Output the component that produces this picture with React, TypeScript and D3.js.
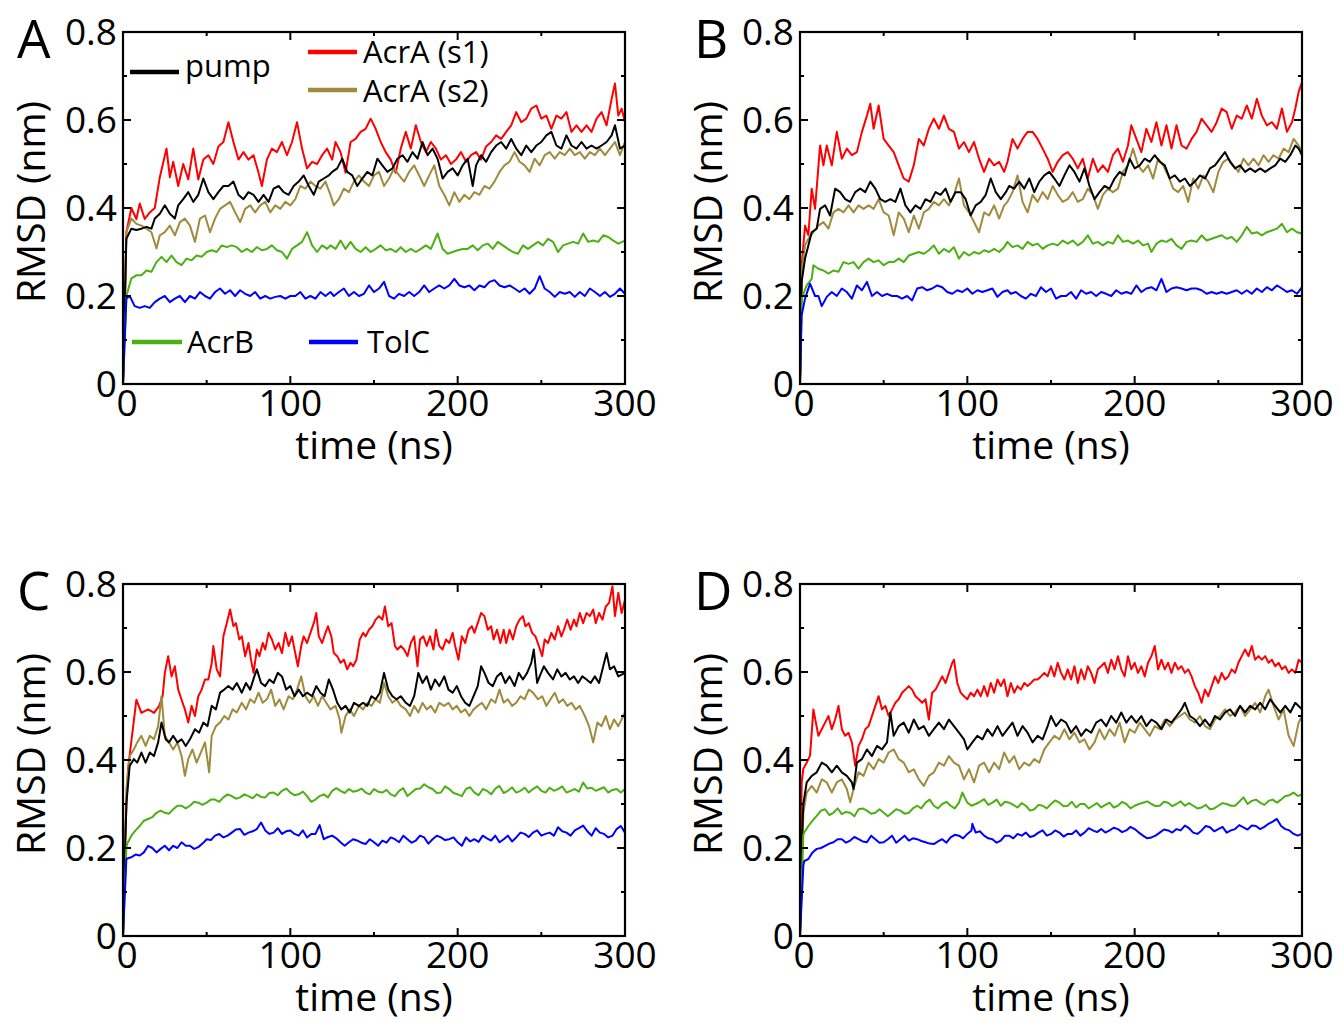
import React from 'react';
import * as d3 from 'd3';

type Pt = [number, number];

const X_TICKS = [0, 100, 200, 300];
const X_MINOR = [50, 150, 250];
const Y_TICKS = [0, 0.2, 0.4, 0.6, 0.8];
const Y_MINOR = [0.1, 0.3, 0.5, 0.7];
const Y_LABELS = ['0', '0.2', '0.4', '0.6', '0.8'];

const COLORS = {
  s1: '#ff0000',
  s2: '#a08a3c',
  pump: '#000000',
  acrb: '#4cb012',
  tolc: '#0000ff',
};

// ---- panel A ----
const A_s1: Pt[] = [[0,0],[2,0.345],[5,0.4],[8,0.375],[10,0.41],[13,0.375],[16,0.39],[19,0.4],[22,0.47],[26,0.535],[28,0.47],[30,0.505],[33,0.45],[36,0.5],[39,0.465],[42,0.535],[45,0.465],[48,0.51],[51,0.52],[54,0.5],[57,0.54],[60,0.55],[63,0.595],[66,0.55],[69,0.51],[72,0.527],[75,0.51],[78,0.52],[81,0.48],[83,0.45],[86,0.51],[89,0.535],[92,0.527],[95,0.55],[98,0.52],[101,0.55],[104,0.595],[107,0.535],[110,0.49],[113,0.505],[116,0.5],[119,0.52],[122,0.535],[125,0.51],[127,0.55],[130,0.527],[133,0.48],[136,0.55],[139,0.557],[142,0.573],[145,0.58],[148,0.603],[151,0.58],[154,0.55],[157,0.527],[160,0.51],[163,0.48],[166,0.535],[169,0.573],[172,0.535],[175,0.588],[178,0.55],[181,0.527],[184,0.55],[187,0.535],[190,0.51],[193,0.52],[196,0.5],[199,0.51],[202,0.527],[205,0.505],[208,0.52],[211,0.527],[214,0.51],[217,0.54],[220,0.55],[223,0.565],[226,0.557],[229,0.573],[232,0.588],[235,0.618],[238,0.595],[241,0.603],[244,0.626],[247,0.633],[250,0.603],[253,0.61],[256,0.58],[259,0.61],[262,0.603],[265,0.618],[268,0.573],[271,0.588],[274,0.573],[277,0.588],[280,0.573],[283,0.603],[286,0.618],[289,0.588],[292,0.648],[294,0.683],[296,0.61],[298,0.626],[300,0.595]];
const A_s2: Pt[] = [[0,0],[2,0.345],[5,0.376],[8,0.364],[11,0.36],[14,0.353],[17,0.345],[20,0.308],[22,0.338],[25,0.345],[28,0.36],[31,0.338],[34,0.368],[37,0.376],[40,0.36],[43,0.323],[46,0.376],[49,0.383],[52,0.345],[55,0.376],[58,0.398],[61,0.406],[64,0.414],[67,0.39],[70,0.368],[73,0.398],[76,0.406],[79,0.39],[82,0.406],[85,0.414],[88,0.39],[91,0.406],[94,0.398],[97,0.414],[100,0.406],[103,0.42],[106,0.45],[109,0.444],[112,0.46],[115,0.45],[118,0.444],[121,0.46],[124,0.43],[126,0.406],[129,0.42],[132,0.444],[135,0.436],[138,0.46],[141,0.474],[144,0.46],[147,0.45],[150,0.474],[153,0.482],[156,0.45],[159,0.467],[162,0.49],[165,0.474],[168,0.46],[171,0.482],[174,0.497],[177,0.474],[180,0.45],[183,0.474],[186,0.497],[189,0.45],[192,0.43],[195,0.406],[198,0.436],[201,0.414],[204,0.43],[207,0.42],[210,0.436],[213,0.43],[216,0.45],[219,0.444],[222,0.46],[225,0.482],[228,0.497],[231,0.505],[234,0.527],[237,0.505],[240,0.497],[243,0.482],[246,0.512],[249,0.497],[252,0.52],[255,0.527],[258,0.512],[261,0.527],[264,0.52],[267,0.535],[270,0.52],[273,0.527],[276,0.512],[279,0.527],[282,0.52],[285,0.535],[288,0.52],[291,0.535],[294,0.55],[297,0.52],[300,0.55]];
const A_pump: Pt[] = [[0,0],[2,0.33],[5,0.353],[8,0.35],[11,0.353],[14,0.357],[17,0.353],[19,0.376],[22,0.387],[25,0.406],[28,0.387],[31,0.376],[33,0.406],[36,0.42],[39,0.436],[42,0.414],[45,0.43],[48,0.467],[51,0.436],[54,0.42],[57,0.436],[60,0.45],[63,0.45],[66,0.46],[69,0.43],[72,0.42],[75,0.436],[78,0.43],[81,0.414],[84,0.43],[87,0.414],[90,0.444],[93,0.45],[96,0.436],[99,0.43],[102,0.45],[105,0.46],[108,0.474],[111,0.45],[114,0.43],[117,0.46],[120,0.467],[123,0.474],[125,0.482],[128,0.49],[131,0.512],[134,0.482],[137,0.474],[140,0.45],[143,0.467],[146,0.482],[149,0.474],[152,0.512],[155,0.497],[158,0.482],[161,0.49],[164,0.512],[167,0.52],[170,0.505],[173,0.527],[176,0.512],[179,0.55],[182,0.52],[185,0.535],[188,0.512],[191,0.467],[194,0.482],[197,0.49],[200,0.474],[203,0.497],[206,0.512],[209,0.45],[211,0.497],[214,0.52],[217,0.505],[220,0.527],[223,0.542],[226,0.55],[229,0.535],[232,0.557],[235,0.535],[238,0.52],[241,0.542],[244,0.527],[247,0.542],[250,0.55],[253,0.565],[256,0.573],[259,0.542],[262,0.535],[265,0.565],[268,0.542],[271,0.535],[274,0.55],[277,0.535],[280,0.542],[283,0.535],[286,0.542],[289,0.55],[292,0.565],[294,0.588],[297,0.535],[300,0.542]];
const A_acrb: Pt[] = [[0,0],[2,0.2],[5,0.24],[8,0.247],[11,0.247],[14,0.258],[17,0.255],[20,0.277],[23,0.289],[26,0.277],[29,0.292],[32,0.277],[35,0.27],[38,0.285],[41,0.281],[44,0.292],[47,0.289],[50,0.3],[53,0.304],[56,0.3],[59,0.315],[62,0.311],[65,0.315],[68,0.311],[71,0.3],[74,0.307],[77,0.3],[80,0.311],[83,0.304],[86,0.307],[89,0.315],[92,0.304],[95,0.3],[98,0.285],[101,0.307],[104,0.315],[107,0.323],[110,0.345],[113,0.315],[116,0.3],[119,0.315],[122,0.307],[124,0.315],[127,0.307],[130,0.326],[133,0.307],[136,0.323],[139,0.307],[142,0.3],[145,0.311],[148,0.3],[151,0.307],[154,0.315],[157,0.304],[160,0.307],[163,0.3],[166,0.311],[169,0.3],[172,0.307],[175,0.3],[178,0.307],[181,0.315],[184,0.307],[188,0.342],[191,0.307],[194,0.296],[197,0.3],[200,0.304],[203,0.307],[206,0.307],[209,0.315],[212,0.304],[215,0.315],[218,0.319],[221,0.307],[224,0.323],[227,0.315],[230,0.307],[233,0.3],[236,0.296],[239,0.315],[242,0.307],[245,0.315],[248,0.323],[251,0.315],[254,0.33],[257,0.323],[260,0.3],[263,0.315],[266,0.319],[269,0.323],[272,0.319],[275,0.342],[278,0.323],[281,0.326],[284,0.323],[287,0.338],[290,0.334],[293,0.326],[296,0.319],[300,0.326]];
const A_tolc: Pt[] = [[0,0],[2,0.194],[4,0.2],[7,0.177],[10,0.173],[13,0.177],[16,0.173],[19,0.186],[22,0.194],[25,0.2],[28,0.186],[31,0.194],[34,0.2],[37,0.186],[40,0.2],[43,0.194],[46,0.209],[49,0.2],[52,0.194],[55,0.209],[58,0.217],[61,0.205],[64,0.213],[67,0.2],[70,0.213],[73,0.205],[76,0.2],[79,0.209],[82,0.194],[85,0.2],[88,0.194],[91,0.198],[94,0.2],[97,0.194],[100,0.2],[103,0.2],[106,0.209],[109,0.194],[112,0.2],[115,0.194],[118,0.209],[121,0.2],[124,0.209],[126,0.2],[129,0.209],[132,0.217],[135,0.2],[138,0.209],[141,0.2],[144,0.205],[147,0.224],[150,0.209],[153,0.217],[156,0.232],[159,0.2],[162,0.194],[165,0.205],[168,0.2],[171,0.209],[174,0.2],[177,0.209],[180,0.224],[183,0.209],[186,0.217],[189,0.224],[192,0.217],[195,0.224],[198,0.239],[201,0.224],[204,0.22],[207,0.224],[210,0.213],[213,0.224],[216,0.22],[219,0.232],[222,0.236],[225,0.224],[228,0.22],[231,0.224],[234,0.217],[237,0.209],[240,0.217],[243,0.205],[246,0.217],[249,0.245],[252,0.217],[255,0.209],[258,0.198],[261,0.209],[264,0.205],[267,0.209],[270,0.198],[273,0.209],[276,0.2],[279,0.217],[282,0.209],[285,0.2],[288,0.209],[291,0.198],[294,0.205],[297,0.217],[300,0.205]];

// ---- panel B ----
const B_s1: Pt[] = [[0,0],[1,0.27],[3,0.36],[5,0.338],[7,0.444],[9,0.398],[12,0.542],[14,0.497],[16,0.542],[19,0.497],[22,0.573],[25,0.512],[28,0.535],[31,0.52],[34,0.527],[37,0.573],[40,0.61],[42,0.637],[44,0.58],[47,0.633],[50,0.557],[53,0.542],[56,0.527],[59,0.497],[62,0.467],[65,0.46],[68,0.497],[71,0.557],[74,0.542],[77,0.58],[80,0.603],[83,0.58],[86,0.61],[89,0.58],[92,0.573],[95,0.535],[98,0.55],[101,0.527],[104,0.55],[107,0.512],[110,0.482],[113,0.512],[116,0.497],[119,0.505],[122,0.482],[124,0.505],[127,0.557],[130,0.535],[133,0.557],[136,0.573],[139,0.573],[142,0.557],[145,0.535],[148,0.512],[151,0.482],[154,0.505],[157,0.52],[160,0.527],[163,0.512],[166,0.49],[169,0.512],[172,0.467],[175,0.512],[178,0.482],[181,0.497],[184,0.482],[187,0.52],[190,0.535],[193,0.505],[196,0.542],[198,0.588],[201,0.557],[204,0.527],[207,0.58],[210,0.55],[213,0.595],[216,0.542],[219,0.588],[222,0.535],[225,0.588],[228,0.542],[231,0.535],[234,0.557],[237,0.573],[240,0.603],[243,0.588],[246,0.573],[249,0.595],[252,0.626],[255,0.618],[258,0.58],[261,0.61],[264,0.603],[267,0.633],[270,0.603],[273,0.648],[276,0.61],[279,0.588],[282,0.595],[285,0.58],[288,0.626],[291,0.573],[294,0.595],[296,0.626],[298,0.664],[300,0.686]];
const B_s2: Pt[] = [[0,0],[1,0.255],[3,0.315],[5,0.33],[8,0.345],[11,0.36],[14,0.368],[17,0.353],[20,0.39],[23,0.398],[26,0.39],[29,0.406],[32,0.39],[35,0.406],[38,0.398],[41,0.406],[44,0.398],[47,0.42],[50,0.39],[53,0.383],[56,0.338],[59,0.39],[62,0.376],[65,0.345],[68,0.383],[71,0.353],[74,0.39],[77,0.398],[80,0.414],[83,0.406],[86,0.42],[89,0.406],[92,0.43],[95,0.467],[98,0.406],[101,0.39],[104,0.368],[107,0.345],[110,0.39],[113,0.383],[116,0.406],[119,0.376],[122,0.406],[124,0.414],[127,0.436],[130,0.474],[133,0.414],[136,0.39],[139,0.43],[142,0.414],[145,0.436],[148,0.42],[151,0.45],[154,0.43],[157,0.414],[160,0.42],[163,0.436],[166,0.414],[169,0.42],[172,0.444],[175,0.43],[178,0.398],[181,0.43],[184,0.444],[187,0.436],[190,0.444],[193,0.482],[196,0.497],[199,0.535],[202,0.497],[205,0.482],[208,0.497],[211,0.467],[214,0.512],[217,0.497],[220,0.474],[223,0.444],[226,0.436],[229,0.45],[232,0.414],[235,0.467],[238,0.444],[241,0.474],[244,0.46],[247,0.436],[250,0.482],[253,0.505],[256,0.512],[259,0.497],[262,0.482],[265,0.512],[268,0.497],[271,0.512],[274,0.497],[277,0.52],[280,0.505],[283,0.52],[286,0.512],[289,0.535],[292,0.527],[295,0.557],[298,0.542],[300,0.527]];
const B_pump: Pt[] = [[0,0],[1,0.232],[3,0.285],[5,0.315],[7,0.345],[10,0.353],[12,0.398],[15,0.406],[18,0.383],[21,0.444],[24,0.436],[27,0.42],[30,0.414],[33,0.436],[36,0.444],[39,0.436],[42,0.46],[45,0.444],[48,0.42],[51,0.414],[54,0.42],[57,0.414],[60,0.444],[63,0.406],[66,0.39],[69,0.406],[72,0.398],[75,0.42],[78,0.414],[81,0.436],[84,0.43],[87,0.444],[90,0.414],[93,0.436],[96,0.436],[99,0.42],[102,0.383],[105,0.406],[108,0.414],[111,0.43],[114,0.467],[117,0.436],[120,0.42],[123,0.436],[125,0.45],[128,0.444],[131,0.46],[134,0.444],[137,0.467],[140,0.436],[143,0.46],[146,0.474],[149,0.482],[152,0.467],[155,0.45],[158,0.474],[161,0.497],[164,0.482],[167,0.46],[170,0.49],[173,0.45],[176,0.42],[179,0.436],[182,0.45],[185,0.444],[188,0.467],[191,0.482],[194,0.474],[197,0.512],[200,0.49],[203,0.497],[206,0.512],[209,0.505],[212,0.52],[215,0.505],[218,0.497],[221,0.467],[224,0.474],[227,0.46],[230,0.467],[233,0.45],[236,0.46],[239,0.474],[242,0.467],[245,0.49],[248,0.497],[251,0.512],[254,0.527],[257,0.505],[260,0.49],[263,0.497],[266,0.482],[269,0.49],[272,0.482],[275,0.49],[278,0.482],[281,0.49],[284,0.497],[287,0.512],[290,0.505],[293,0.52],[296,0.542],[298,0.535],[300,0.52]];
const B_acrb: Pt[] = [[0,0],[1,0.194],[4,0.224],[7,0.239],[8,0.27],[11,0.262],[14,0.258],[17,0.251],[20,0.258],[23,0.255],[26,0.277],[29,0.273],[32,0.277],[35,0.262],[38,0.277],[41,0.285],[44,0.277],[47,0.281],[50,0.27],[53,0.277],[56,0.277],[59,0.285],[62,0.277],[65,0.292],[68,0.296],[71,0.3],[74,0.296],[77,0.304],[80,0.315],[83,0.296],[86,0.307],[89,0.3],[92,0.311],[95,0.285],[98,0.3],[101,0.292],[104,0.3],[107,0.296],[110,0.304],[113,0.3],[116,0.307],[119,0.3],[122,0.311],[124,0.323],[127,0.311],[130,0.315],[133,0.307],[136,0.323],[139,0.315],[142,0.319],[145,0.307],[148,0.315],[151,0.319],[154,0.315],[157,0.326],[160,0.319],[163,0.326],[166,0.315],[169,0.323],[172,0.338],[175,0.319],[178,0.323],[181,0.315],[184,0.323],[187,0.319],[190,0.338],[193,0.323],[196,0.326],[199,0.319],[202,0.326],[205,0.315],[208,0.319],[210,0.3],[213,0.319],[216,0.326],[219,0.323],[222,0.33],[225,0.315],[228,0.307],[231,0.323],[234,0.326],[237,0.323],[240,0.338],[243,0.326],[246,0.33],[249,0.334],[252,0.338],[255,0.33],[258,0.334],[261,0.323],[264,0.338],[267,0.357],[270,0.342],[273,0.345],[276,0.338],[279,0.345],[282,0.349],[285,0.353],[288,0.364],[291,0.345],[294,0.353],[297,0.345],[300,0.342]];
const B_tolc: Pt[] = [[0,0],[1,0.156],[3,0.194],[6,0.228],[9,0.2],[11,0.2],[13,0.177],[16,0.198],[19,0.209],[22,0.2],[25,0.217],[28,0.209],[31,0.194],[34,0.224],[37,0.213],[40,0.232],[43,0.2],[46,0.209],[49,0.2],[52,0.205],[55,0.2],[58,0.2],[61,0.194],[64,0.2],[67,0.19],[70,0.217],[73,0.22],[76,0.213],[79,0.217],[82,0.224],[85,0.22],[88,0.209],[91,0.205],[94,0.213],[97,0.209],[100,0.217],[103,0.205],[106,0.213],[109,0.209],[112,0.213],[115,0.217],[118,0.198],[121,0.209],[124,0.213],[126,0.205],[129,0.209],[132,0.2],[135,0.194],[138,0.205],[141,0.2],[144,0.22],[147,0.209],[150,0.217],[153,0.194],[156,0.2],[159,0.2],[162,0.209],[165,0.194],[168,0.213],[171,0.205],[174,0.209],[177,0.2],[180,0.209],[183,0.205],[186,0.2],[189,0.213],[192,0.205],[195,0.209],[198,0.205],[201,0.224],[204,0.209],[207,0.217],[210,0.22],[213,0.213],[216,0.239],[219,0.209],[222,0.217],[225,0.22],[228,0.217],[231,0.213],[234,0.217],[237,0.217],[240,0.213],[243,0.205],[246,0.209],[249,0.205],[252,0.209],[255,0.205],[258,0.209],[261,0.213],[264,0.205],[267,0.213],[270,0.205],[273,0.217],[276,0.209],[279,0.22],[282,0.213],[285,0.224],[288,0.217],[291,0.209],[294,0.213],[297,0.205],[300,0.22]];

// ---- panel C ----
const C_s1: Pt[] = [[0,0],[1,0.2],[3,0.38],[8,0.537],[11,0.507],[15,0.515],[18.6,0.507],[21.6,0.523],[23.7,0.545],[25,0.598],[27,0.636],[29,0.59],[31,0.613],[33,0.56],[35,0.537],[37,0.515],[39,0.485],[41,0.523],[43,0.5],[45,0.545],[47,0.56],[49,0.583],[51,0.583],[53,0.62],[54,0.659],[56,0.606],[58,0.59],[60,0.681],[62,0.711],[64,0.742],[66,0.704],[67.5,0.711],[69.5,0.674],[71,0.681],[73,0.636],[75,0.666],[76.5,0.628],[78,0.598],[80,0.651],[81.5,0.636],[83.5,0.666],[85,0.651],[87,0.689],[89,0.674],[91,0.651],[93,0.666],[95,0.643],[97,0.689],[99,0.659],[101,0.681],[102.5,0.651],[104.5,0.613],[106.5,0.659],[108,0.681],[110,0.666],[112,0.689],[114,0.711],[115.5,0.734],[117,0.681],[119,0.666],[121,0.689],[122.5,0.704],[124.5,0.681],[126,0.643],[128,0.636],[130,0.621],[132,0.628],[134,0.606],[136,0.621],[137.5,0.613],[139.5,0.628],[141.5,0.674],[143.5,0.689],[145,0.681],[147,0.696],[149,0.704],[151,0.719],[153,0.727],[155,0.719],[156.5,0.749],[158.5,0.704],[160.5,0.711],[162.5,0.659],[164,0.651],[166,0.659],[168,0.651],[170,0.636],[172,0.666],[174,0.681],[176,0.613],[177.5,0.674],[179.5,0.681],[181.5,0.659],[183.5,0.681],[185.5,0.651],[187,0.696],[189,0.659],[191,0.651],[193,0.674],[195,0.666],[197,0.689],[198.5,0.659],[200.5,0.628],[202.5,0.681],[204.5,0.666],[206.5,0.696],[208.5,0.704],[210,0.689],[212,0.711],[214,0.734],[216,0.727],[218,0.696],[220,0.704],[221.5,0.674],[223.5,0.696],[225.5,0.666],[227.5,0.696],[229,0.666],[231,0.696],[233,0.674],[235,0.704],[237,0.719],[239,0.727],[240.5,0.704],[242.5,0.711],[244.5,0.689],[246.5,0.681],[248.5,0.659],[250.5,0.636],[252,0.674],[254,0.666],[256,0.689],[258,0.674],[260,0.704],[262,0.681],[263.5,0.696],[265.5,0.719],[267.5,0.696],[269.5,0.719],[271,0.704],[273,0.734],[275,0.711],[277,0.734],[279,0.727],[281,0.742],[282.5,0.711],[284.5,0.734],[286.5,0.719],[288.5,0.749],[290.5,0.757],[292.5,0.795],[294,0.727],[296,0.78],[298,0.734],[300,0.764]];
const C_s2: Pt[] = [[0,0],[2,0.334],[4,0.409],[6.5,0.424],[8.5,0.44],[11,0.455],[13.5,0.432],[16,0.455],[18.5,0.447],[21,0.477],[23,0.545],[25,0.455],[27.5,0.44],[30,0.424],[32.5,0.44],[35,0.409],[37,0.364],[39,0.402],[41.5,0.424],[44,0.394],[46.5,0.417],[49,0.44],[51.5,0.372],[53,0.455],[55.5,0.477],[58,0.485],[60.5,0.5],[63,0.492],[65.5,0.515],[68,0.508],[71,0.53],[73.5,0.515],[76,0.538],[78.5,0.53],[81,0.553],[83.5,0.53],[86,0.538],[88.5,0.56],[91,0.523],[93.5,0.538],[96,0.515],[99,0.545],[101.5,0.538],[104,0.56],[106.5,0.59],[109,0.545],[111.5,0.53],[114,0.545],[116.5,0.523],[119,0.545],[121.5,0.53],[124,0.515],[127,0.523],[129.5,0.492],[130.5,0.462],[133,0.5],[135.5,0.515],[138,0.5],[141,0.523],[143.5,0.515],[146,0.53],[148.5,0.523],[151,0.538],[153.5,0.53],[156,0.575],[158.5,0.545],[161,0.53],[163.5,0.538],[166,0.523],[169,0.515],[171.5,0.5],[174,0.523],[176.5,0.508],[179,0.53],[181.5,0.515],[184,0.523],[186.5,0.508],[189,0.53],[192,0.523],[194.5,0.53],[197,0.515],[199.5,0.523],[202,0.508],[204.5,0.515],[207,0.5],[209.5,0.515],[212,0.523],[214.5,0.53],[217,0.515],[220,0.538],[222.5,0.53],[225,0.56],[227.5,0.53],[230,0.538],[232.5,0.523],[235,0.53],[237.5,0.545],[240,0.538],[242.5,0.56],[245,0.553],[248,0.538],[250.5,0.545],[253,0.523],[255.5,0.538],[258,0.553],[260.5,0.53],[263,0.538],[265.5,0.523],[268,0.53],[270.5,0.515],[273,0.523],[276,0.5],[278.5,0.477],[281,0.44],[283.5,0.485],[286,0.477],[288.5,0.5],[291,0.47],[293.5,0.492],[296,0.477],[300,0.508]];
const C_pump: Pt[] = [[0,0],[2,0.3],[4,0.387],[6.5,0.402],[8.5,0.394],[11,0.417],[13.5,0.394],[16,0.417],[18.5,0.409],[21,0.44],[23,0.485],[25.5,0.447],[27.5,0.44],[30,0.455],[32.5,0.44],[35,0.447],[37.5,0.432],[40,0.447],[43,0.47],[45.5,0.462],[48,0.485],[50.5,0.477],[53,0.523],[55.5,0.515],[58,0.553],[60.5,0.56],[63,0.568],[65.5,0.56],[68,0.575],[71,0.553],[73.5,0.575],[76,0.56],[78.5,0.59],[80,0.606],[82.5,0.575],[85,0.568],[87.5,0.583],[90,0.575],[92.5,0.598],[95,0.59],[97.5,0.56],[100,0.568],[102.5,0.545],[105,0.56],[107.5,0.545],[110,0.553],[113,0.545],[115.5,0.568],[118,0.553],[120.5,0.545],[123,0.583],[125.5,0.56],[128,0.53],[130.5,0.515],[133,0.523],[135.5,0.508],[138,0.53],[141,0.523],[143.5,0.53],[146,0.523],[148.5,0.545],[151,0.538],[153.5,0.553],[156,0.598],[158.5,0.56],[161,0.545],[163.5,0.538],[166,0.545],[169,0.53],[171.5,0.523],[174,0.545],[176.5,0.598],[179,0.575],[181.5,0.59],[184,0.56],[186.5,0.583],[189,0.568],[192,0.59],[194.5,0.56],[197,0.553],[199.5,0.568],[202,0.545],[204.5,0.53],[207,0.523],[209.5,0.545],[212,0.568],[214,0.613],[216,0.598],[218.5,0.575],[221,0.568],[223.5,0.59],[226,0.598],[228.5,0.575],[231,0.59],[234,0.568],[236.5,0.598],[239,0.583],[241.5,0.598],[244,0.621],[245.5,0.651],[247.5,0.575],[249,0.59],[251.5,0.613],[254,0.598],[257,0.583],[259.5,0.606],[262,0.59],[264.5,0.598],[267,0.583],[269.5,0.59],[272,0.575],[274.5,0.59],[277,0.583],[279.5,0.575],[282,0.59],[284.5,0.575],[287,0.613],[289,0.643],[291,0.606],[293.5,0.613],[296,0.59],[300,0.598]];
const C_acrb: Pt[] = [[0,0],[2,0.2],[2.5,0.21],[5,0.228],[7.5,0.24],[10,0.25],[12.5,0.262],[15,0.266],[17.5,0.27],[20,0.28],[22.5,0.285],[25,0.28],[27.5,0.278],[30,0.288],[32.5,0.296],[35,0.296],[37.5,0.29],[40,0.296],[42.5,0.305],[45,0.303],[47.5,0.298],[50,0.303],[52.5,0.31],[55,0.31],[57.5,0.305],[60,0.315],[62.5,0.322],[65,0.318],[67.5,0.312],[70,0.315],[72.5,0.322],[75,0.318],[77.5,0.313],[80,0.322],[82.5,0.316],[85,0.315],[87.5,0.325],[90,0.326],[92.5,0.32],[95,0.33],[97.5,0.335],[100,0.326],[102.5,0.32],[105,0.322],[107.5,0.328],[110,0.318],[112.5,0.305],[115,0.31],[117.5,0.318],[120,0.322],[122.5,0.315],[125,0.33],[127.5,0.336],[130,0.33],[132.5,0.325],[135,0.334],[137.5,0.328],[140,0.33],[142.5,0.335],[145,0.326],[147.5,0.322],[150,0.334],[152.5,0.328],[155,0.326],[157.5,0.332],[160,0.322],[162.5,0.318],[165,0.33],[167.5,0.336],[170,0.318],[172.5,0.326],[175,0.334],[177.5,0.335],[180,0.345],[182.5,0.338],[185,0.334],[187.5,0.325],[190,0.326],[192.5,0.34],[195,0.334],[197.5,0.325],[200,0.322],[202.5,0.318],[205,0.334],[207.5,0.338],[210,0.326],[212.5,0.32],[215,0.334],[217.5,0.33],[220,0.322],[222.5,0.335],[225,0.341],[227.5,0.325],[230,0.33],[232.5,0.338],[235,0.326],[237.5,0.33],[240,0.337],[242.5,0.326],[245,0.334],[247.5,0.34],[250,0.33],[252.5,0.326],[255,0.337],[257.5,0.33],[260,0.334],[262.5,0.34],[265,0.326],[267.5,0.33],[270,0.334],[272.5,0.328],[275,0.349],[277.5,0.335],[280,0.337],[282.5,0.33],[285,0.334],[287.5,0.338],[290,0.326],[292.5,0.332],[295,0.334],[297.5,0.326],[300,0.334]];
const C_tolc: Pt[] = [[0,0],[2,0.175],[2.5,0.176],[5,0.179],[7.5,0.185],[10,0.183],[12.5,0.19],[15,0.205],[17.5,0.2],[20,0.19],[22.5,0.198],[25,0.205],[27.5,0.195],[30,0.205],[32.5,0.2],[35,0.213],[37.5,0.205],[40,0.205],[42.5,0.198],[45,0.202],[47.5,0.21],[50,0.22],[52.5,0.218],[55,0.228],[57.5,0.232],[60,0.224],[62.5,0.228],[65,0.235],[67.5,0.242],[70,0.243],[72.5,0.23],[75,0.235],[77.5,0.238],[80,0.243],[82.5,0.258],[85,0.24],[87.5,0.232],[90,0.235],[92.5,0.245],[95,0.232],[97.5,0.238],[100,0.24],[102.5,0.232],[105,0.228],[107.5,0.24],[110,0.224],[112.5,0.232],[115,0.232],[117.5,0.252],[120,0.22],[122.5,0.225],[125,0.228],[127.5,0.222],[130,0.213],[132.5,0.205],[135,0.213],[137.5,0.22],[140,0.217],[142.5,0.212],[145,0.209],[147.5,0.22],[150,0.213],[152.5,0.205],[155,0.217],[157.5,0.212],[160,0.224],[162.5,0.22],[165,0.213],[167.5,0.228],[170,0.22],[172.5,0.212],[175,0.217],[177.5,0.228],[180,0.224],[182.5,0.21],[185,0.22],[187.5,0.228],[190,0.224],[192.5,0.218],[195,0.22],[197.5,0.224],[200,0.213],[202.5,0.205],[205,0.224],[207.5,0.215],[210,0.22],[212.5,0.214],[215,0.228],[217.5,0.222],[220,0.217],[222.5,0.228],[225,0.213],[227.5,0.22],[230,0.228],[232.5,0.215],[235,0.224],[237.5,0.235],[240,0.232],[242.5,0.225],[245,0.235],[247.5,0.24],[250,0.228],[252.5,0.232],[255,0.235],[257.5,0.228],[260,0.247],[262.5,0.238],[265,0.235],[267.5,0.228],[270,0.24],[272.5,0.245],[275,0.251],[277.5,0.238],[280,0.228],[282.5,0.245],[285,0.235],[287.5,0.232],[290,0.224],[292.5,0.228],[295,0.243],[297.5,0.25],[300,0.235]];

// ---- panel D ----
const D_s1: Pt[] = [[0,0],[1,0.349],[2,0.38],[4,0.394],[6,0.41],[8,0.515],[9.5,0.485],[11,0.455],[13,0.47],[15,0.485],[17,0.5],[19,0.47],[21,0.492],[23,0.523],[25,0.47],[27,0.455],[29,0.462],[31,0.44],[33,0.387],[35,0.432],[37,0.447],[39,0.47],[41,0.477],[43,0.5],[45,0.523],[47,0.545],[49,0.515],[51,0.523],[53,0.5],[55,0.515],[57,0.53],[59,0.538],[61,0.553],[63,0.56],[65,0.568],[67,0.56],[69,0.545],[71,0.538],[73,0.53],[75,0.538],[77,0.492],[79,0.553],[81,0.56],[83,0.575],[85,0.59],[87,0.575],[89,0.598],[91,0.621],[92,0.628],[94,0.575],[96,0.553],[98,0.545],[100,0.538],[102,0.553],[104,0.545],[106,0.56],[108,0.545],[110,0.568],[112,0.545],[114,0.575],[116,0.553],[118,0.583],[120,0.568],[122,0.583],[124,0.545],[126,0.575],[128,0.553],[130,0.568],[132,0.56],[134,0.575],[136,0.568],[138,0.575],[140,0.583],[142,0.583],[144,0.59],[146,0.598],[148,0.59],[150,0.613],[152,0.59],[154,0.621],[156,0.598],[158,0.583],[160,0.606],[162,0.583],[164,0.613],[166,0.575],[168,0.606],[170,0.583],[172,0.613],[174,0.598],[176,0.575],[178,0.606],[180,0.613],[182,0.621],[184,0.598],[186,0.628],[188,0.606],[190,0.636],[192,0.606],[194,0.59],[196,0.636],[198,0.606],[200,0.621],[202,0.598],[204,0.613],[206,0.59],[208,0.621],[210,0.636],[212,0.659],[214,0.606],[216,0.628],[218,0.606],[220,0.621],[222,0.598],[224,0.621],[226,0.606],[228,0.613],[230,0.598],[232,0.606],[234,0.59],[236,0.568],[238,0.553],[240,0.53],[242,0.56],[244,0.545],[246,0.568],[248,0.59],[250,0.575],[252,0.598],[254,0.583],[256,0.59],[258,0.606],[260,0.598],[262,0.621],[264,0.636],[266,0.651],[268,0.636],[270,0.659],[272,0.628],[274,0.636],[276,0.628],[278,0.636],[280,0.621],[282,0.628],[284,0.613],[286,0.621],[288,0.606],[290,0.613],[292,0.598],[294,0.606],[296,0.598],[298,0.628],[300,0.621]];
const D_s2: Pt[] = [[0,0],[2,0.28],[4,0.326],[7,0.341],[10,0.326],[13,0.356],[16,0.349],[19,0.326],[22,0.349],[25,0.356],[28,0.334],[30,0.304],[32,0.334],[35,0.372],[38,0.364],[41,0.394],[44,0.379],[47,0.402],[50,0.394],[53,0.417],[56,0.424],[59,0.402],[62,0.394],[65,0.372],[68,0.379],[71,0.356],[74,0.341],[77,0.364],[80,0.372],[83,0.394],[86,0.387],[89,0.409],[92,0.394],[95,0.387],[98,0.356],[101,0.379],[104,0.349],[107,0.387],[110,0.394],[113,0.372],[116,0.394],[119,0.379],[122,0.417],[125,0.394],[128,0.409],[131,0.379],[134,0.394],[137,0.387],[140,0.402],[143,0.394],[146,0.424],[149,0.44],[152,0.455],[155,0.447],[158,0.47],[161,0.447],[164,0.462],[167,0.44],[170,0.447],[173,0.424],[176,0.44],[179,0.47],[182,0.447],[185,0.47],[188,0.455],[191,0.485],[194,0.44],[197,0.47],[200,0.462],[203,0.485],[206,0.47],[209,0.455],[212,0.477],[215,0.47],[218,0.492],[221,0.477],[224,0.492],[227,0.5],[230,0.508],[233,0.492],[236,0.485],[239,0.5],[242,0.477],[245,0.47],[248,0.492],[251,0.5],[254,0.515],[257,0.5],[260,0.508],[263,0.523],[266,0.5],[269,0.515],[272,0.53],[275,0.508],[278,0.545],[280,0.56],[283,0.523],[286,0.492],[289,0.515],[292,0.455],[295,0.432],[298,0.485],[300,0.5]];
const D_pump: Pt[] = [[0,0],[1,0.2],[2,0.3],[4,0.349],[7,0.364],[10,0.372],[13,0.394],[16,0.387],[19,0.372],[22,0.387],[25,0.372],[28,0.364],[31,0.349],[32,0.334],[34,0.394],[37,0.402],[40,0.424],[43,0.409],[46,0.432],[49,0.424],[52,0.44],[54,0.508],[56,0.455],[59,0.477],[62,0.485],[65,0.462],[68,0.492],[71,0.47],[74,0.477],[77,0.455],[80,0.47],[83,0.485],[86,0.47],[89,0.492],[92,0.477],[95,0.462],[98,0.447],[100,0.424],[103,0.44],[106,0.455],[109,0.447],[112,0.47],[115,0.455],[118,0.477],[121,0.455],[124,0.47],[127,0.485],[130,0.455],[133,0.477],[136,0.462],[139,0.44],[142,0.455],[145,0.447],[148,0.477],[150,0.5],[153,0.477],[156,0.492],[159,0.485],[162,0.462],[165,0.477],[168,0.455],[171,0.47],[174,0.462],[177,0.485],[180,0.492],[183,0.477],[186,0.5],[189,0.485],[192,0.508],[195,0.485],[198,0.5],[201,0.485],[204,0.5],[207,0.477],[210,0.492],[213,0.485],[216,0.47],[219,0.492],[222,0.485],[225,0.5],[228,0.515],[230,0.53],[233,0.5],[236,0.492],[239,0.477],[242,0.492],[245,0.477],[248,0.5],[251,0.492],[254,0.508],[257,0.515],[260,0.5],[263,0.523],[266,0.508],[269,0.523],[272,0.515],[275,0.53],[278,0.515],[281,0.538],[284,0.523],[287,0.508],[290,0.523],[293,0.508],[296,0.53],[300,0.515]];
const D_acrb: Pt[] = [[0,0],[2,0.23],[2.5,0.235],[5,0.25],[7.5,0.262],[10,0.273],[12.5,0.285],[15,0.288],[17.5,0.275],[20,0.28],[22.5,0.29],[25,0.277],[27.5,0.282],[30,0.28],[32.5,0.272],[35,0.288],[37.5,0.29],[40,0.285],[42.5,0.278],[45,0.28],[47.5,0.288],[50,0.28],[52.5,0.272],[55,0.28],[57.5,0.288],[60,0.285],[62.5,0.278],[65,0.28],[67.5,0.29],[70,0.296],[72.5,0.29],[75,0.303],[77.5,0.31],[80,0.296],[82.5,0.29],[85,0.3],[87.5,0.305],[90,0.296],[92.5,0.29],[95,0.303],[97,0.326],[100,0.303],[102.5,0.296],[105,0.3],[107.5,0.305],[110,0.311],[112.5,0.298],[115,0.303],[117.5,0.31],[120,0.296],[122.5,0.305],[125,0.303],[127.5,0.298],[130,0.292],[132.5,0.302],[135,0.296],[137.5,0.285],[140,0.288],[142.5,0.298],[145,0.296],[147.5,0.29],[150,0.3],[152.5,0.308],[155,0.303],[157.5,0.295],[160,0.296],[162.5,0.305],[165,0.292],[167.5,0.3],[170,0.3],[172.5,0.29],[175,0.296],[177.5,0.302],[180,0.292],[182.5,0.298],[185,0.303],[187.5,0.292],[190,0.296],[192.5,0.305],[195,0.3],[197.5,0.29],[200,0.296],[202.5,0.3],[205,0.303],[207.5,0.306],[210,0.3],[212.5,0.295],[215,0.296],[217.5,0.305],[220,0.303],[222.5,0.295],[225,0.3],[227.5,0.306],[230,0.296],[232.5,0.302],[235,0.296],[237.5,0.29],[240,0.292],[242.5,0.298],[245,0.288],[247.5,0.29],[250,0.296],[252.5,0.302],[255,0.3],[257.5,0.296],[260,0.296],[262.5,0.305],[265,0.315],[267.5,0.3],[270,0.307],[272.5,0.31],[275,0.303],[277.5,0.298],[280,0.307],[282.5,0.31],[285,0.303],[287.5,0.31],[290,0.318],[292.5,0.32],[295,0.326],[297.5,0.318],[300,0.322]];
const D_tolc: Pt[] = [[0,0],[2,0.16],[2.5,0.17],[5,0.175],[7.5,0.19],[10,0.198],[12.5,0.2],[15,0.205],[17.5,0.21],[20,0.213],[22.5,0.22],[25,0.22],[27.5,0.212],[30,0.217],[32.5,0.225],[35,0.22],[37.5,0.215],[40,0.213],[42.5,0.228],[45,0.22],[47.5,0.212],[50,0.213],[52.5,0.22],[55,0.228],[57.5,0.212],[60,0.22],[62.5,0.228],[65,0.217],[67.5,0.222],[70,0.22],[72.5,0.216],[75,0.213],[77.5,0.21],[80,0.209],[82.5,0.215],[85,0.22],[87.5,0.212],[90,0.224],[92.5,0.23],[95,0.228],[97.5,0.222],[100,0.232],[102.5,0.24],[103,0.255],[105,0.235],[107.5,0.238],[110,0.228],[112.5,0.222],[115,0.22],[117.5,0.212],[120,0.217],[122.5,0.228],[125,0.228],[127.5,0.222],[130,0.232],[132.5,0.228],[135,0.235],[137.5,0.225],[140,0.228],[142.5,0.235],[145,0.24],[147.5,0.228],[150,0.232],[152.5,0.24],[155,0.235],[157.5,0.226],[160,0.232],[162.5,0.232],[165,0.24],[167.5,0.228],[170,0.235],[172.5,0.245],[175,0.24],[177.5,0.236],[180,0.243],[182.5,0.235],[185,0.24],[187.5,0.246],[190,0.243],[192.5,0.236],[195,0.24],[197.5,0.248],[200,0.243],[202.5,0.235],[205,0.228],[207.5,0.222],[210,0.224],[212.5,0.228],[215,0.235],[217.5,0.242],[220,0.24],[222.5,0.235],[225,0.243],[227.5,0.24],[230,0.251],[232.5,0.245],[235,0.235],[237.5,0.232],[240,0.24],[242.5,0.25],[245,0.247],[247.5,0.238],[250,0.243],[252.5,0.248],[255,0.235],[257.5,0.24],[260,0.243],[262.5,0.252],[265,0.247],[267.5,0.242],[270,0.251],[272.5,0.25],[275,0.243],[277.5,0.248],[280,0.255],[282.5,0.26],[285,0.266],[287.5,0.25],[290,0.243],[292.5,0.24],[295,0.232],[297.5,0.228],[300,0.232]];

const PANELS = [
  { letter: 'A', left: 123, top: 32, s1: A_s1, s2: A_s2, pump: A_pump, acrb: A_acrb, tolc: A_tolc, legend: true },
  { letter: 'B', left: 800, top: 32, s1: B_s1, s2: B_s2, pump: B_pump, acrb: B_acrb, tolc: B_tolc, legend: false },
  { letter: 'C', left: 123, top: 584, s1: C_s1, s2: C_s2, pump: C_pump, acrb: C_acrb, tolc: C_tolc, legend: false },
  { letter: 'D', left: 800, top: 584, s1: D_s1, s2: D_s2, pump: D_pump, acrb: D_acrb, tolc: D_tolc, legend: false },
];

const W = 502;
const H = 352;
const FONT = "'Open Sans', sans-serif";

const Panel = ({ p }: { p: typeof PANELS[number] }) => {
  const x = d3.scaleLinear().domain([0, 300]).range([0, W]);
  const y = d3.scaleLinear().domain([0, 0.8]).range([H, 0]);
  const line = d3.line<Pt>().x(d => x(d[0])).y(d => y(d[1]));
  const order: [Pt[], string][] = [
    [p.s1, COLORS.s1], [p.s2, COLORS.s2], [p.pump, COLORS.pump], [p.acrb, COLORS.acrb], [p.tolc, COLORS.tolc],
  ];
  return (
    <g transform={`translate(${p.left},${p.top})`} fontFamily={FONT}>
      {order.map(([d, c], i) => (
        <path key={i} d={line(d) || ''} fill="none" stroke={c} strokeWidth={2} strokeLinejoin="round" />
      ))}
      <rect x={0} y={0} width={W} height={H} fill="none" stroke="#000" strokeWidth={2.2} />
      {X_TICKS.map(t => (
        <g key={'xt' + t}>
          <line x1={x(t)} x2={x(t)} y1={H} y2={H - 8} stroke="#000" strokeWidth={2} />
          <line x1={x(t)} x2={x(t)} y1={0} y2={8} stroke="#000" strokeWidth={2} />
          <text x={x(t) + (t === 0 ? 4 : 0)} y={H + 32} fontSize={37} textAnchor="middle">{t}</text>
        </g>
      ))}
      {X_MINOR.map(t => (
        <g key={'xm' + t}>
          <line x1={x(t)} x2={x(t)} y1={H} y2={H - 4} stroke="#000" strokeWidth={2} />
          <line x1={x(t)} x2={x(t)} y1={0} y2={4} stroke="#000" strokeWidth={2} />
        </g>
      ))}
      {Y_TICKS.map((t, i) => (
        <g key={'yt' + t}>
          <line x1={0} x2={8} y1={y(t)} y2={y(t)} stroke="#000" strokeWidth={2} />
          <line x1={W} x2={W - 8} y1={y(t)} y2={y(t)} stroke="#000" strokeWidth={2} />
          <text x={-6} y={y(t)} dy="0.36em" fontSize={37} textAnchor="end">{Y_LABELS[i]}</text>
        </g>
      ))}
      {Y_MINOR.map(t => (
        <g key={'ym' + t}>
          <line x1={0} x2={4} y1={y(t)} y2={y(t)} stroke="#000" strokeWidth={2} />
          <line x1={W} x2={W - 4} y1={y(t)} y2={y(t)} stroke="#000" strokeWidth={2} />
        </g>
      ))}
      <text x={-106} y={26} fontSize={53}>{p.letter}</text>
      <text x={W / 2} y={H + 75} fontSize={39} textAnchor="middle">time (ns)</text>
      <text transform={`translate(-78,${H / 2 - 6}) rotate(-90)`} fontSize={39} textAnchor="middle">RMSD (nm)</text>
      {p.legend && (
        <g fontSize={31}>
          <line x1={7} x2={56} y1={40} y2={40} stroke={COLORS.pump} strokeWidth={4.5} />
          <text x={62} y={45}>pump</text>
          <line x1={185} x2={234} y1={20} y2={20} stroke={COLORS.s1} strokeWidth={4.5} />
          <text x={240} y={31}>AcrA (s1)</text>
          <line x1={185} x2={234} y1={58} y2={58} stroke={COLORS.s2} strokeWidth={4.5} />
          <text x={240} y={70}>AcrA (s2)</text>
          <line x1={9} x2={59} y1={310} y2={310} stroke={COLORS.acrb} strokeWidth={4.5} />
          <text x={64} y={321}>AcrB</text>
          <line x1={186} x2={235} y1={310} y2={310} stroke={COLORS.tolc} strokeWidth={4.5} />
          <text x={244} y={321}>TolC</text>
        </g>
      )}
    </g>
  );
};

export default function App() {
  return (
    <svg width={1340} height={1023} style={{ position: 'absolute', left: 0, top: 0, background: '#fff' }}>
      {PANELS.map(p => <Panel key={p.letter} p={p} />)}
    </svg>
  );
}
